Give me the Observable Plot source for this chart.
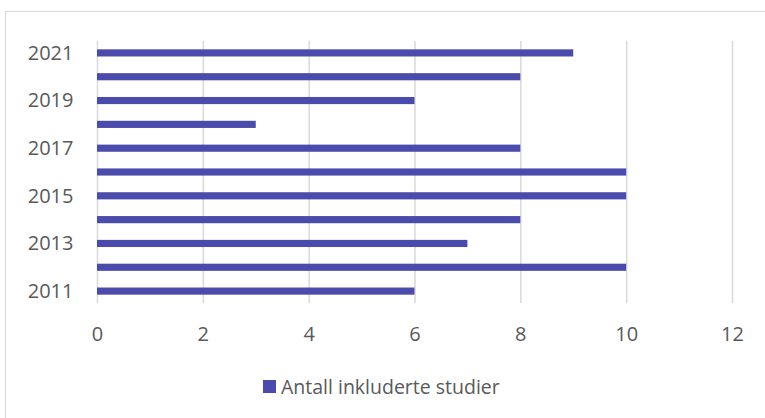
<!DOCTYPE html>
<html>
<head>
<meta charset="utf-8">
<script src="https://cdn.jsdelivr.net/npm/d3@7"></script>
<script src="https://cdn.jsdelivr.net/npm/@observablehq/plot@0.6"></script>
<style>
  html, body { margin: 0; padding: 0; background: #fff; overflow: hidden; width: 765px; height: 418px; }
  #wrap { position: relative; width: 765px; height: 418px; font-family: "Open Sans", sans-serif; }
  #frame { position: absolute; left: 5px; top: 11px; width: 800px; height: 500px; border: 1px solid #d9d9d9; box-sizing: border-box; }
  #chart { position: absolute; left: 0; top: 0; }
  #chart svg text { font-size: 20px; }
  #legend { position: absolute; left: 263px; top: 373px; display: flex; align-items: center; color: #595959; font-size: 19.5px; }
  #legend .sw { width: 13px; height: 13px; background: #4b4bab; margin-right: 5px; }
</style>
</head>
<body>
<div id="wrap">
  <div id="frame"></div>
  <div id="chart"></div>
  <div id="legend"><span class="sw"></span><span id="legtext"></span></div>
</div>
<script>
const years = ["2011","2012","2013","2014","2015","2016","2017","2018","2019","2020","2021"];
const studies = [6, 10, 7, 8, 10, 10, 8, 3, 6, 8, 9];
const yTicks = ["2011","2013","2015","2017","2019","2021"];
const xTicks = [0, 2, 4, 6, 8, 10, 12];
const seriesName = "Antall inkluderte studier";

const data = years.map((y, i) => ({year: y, value: studies[i]}));

const chart = Plot.plot({
  width: 765,
  height: 418,
  marginLeft: 97,
  marginRight: 33,
  marginTop: 41,
  marginBottom: 115,
  style: {fontFamily: "'Open Sans', sans-serif", fontSize: "20px", color: "#595959", background: "transparent"},
  x: {domain: [0, 12]},
  y: {domain: years.slice().reverse(), paddingInner: 0.7, paddingOuter: 0.35, round: false},
  marks: [
    Plot.gridX(xTicks, {stroke: "#d9d9d9", strokeOpacity: 1, strokeWidth: 1.5}),
    Plot.barX(data, {x: "value", y: "year", fill: "#4b4bab"}),
    Plot.axisX(xTicks, {tickSize: 0, tickPadding: 23, label: null, fill: "#595959"}),
    Plot.axisY(yTicks, {tickSize: 0, tickPadding: 24, label: null, fill: "#595959"})
  ]
});
document.getElementById("chart").appendChild(chart);
document.getElementById("legtext").textContent = seriesName;
</script>
</body>
</html>
